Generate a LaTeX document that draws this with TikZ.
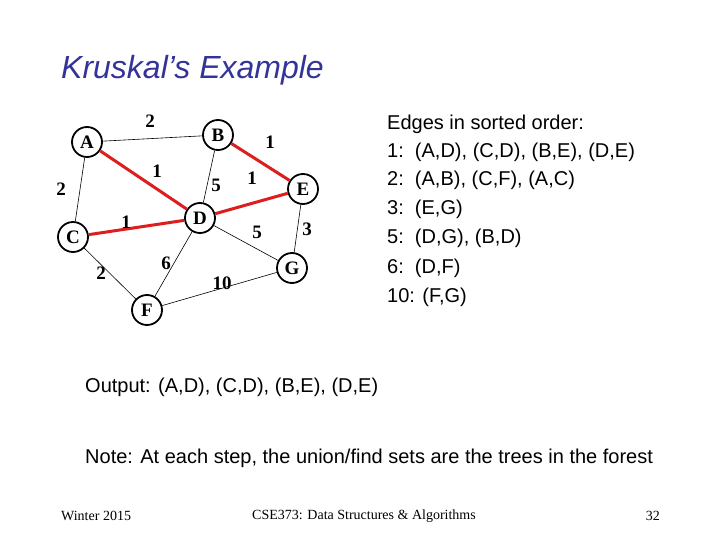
\documentclass[tikz,border=0pt]{standalone}
\usepackage{fontspec}
\setmainfont{Liberation Serif}
\newfontfamily\arialf{Liberation Sans}
\definecolor{titleblue}{RGB}{51,51,153}
\definecolor{mstred}{RGB}{220,30,30}
\begin{document}
\begin{tikzpicture}[x=1pt,y=-1pt,
  vtx/.style={circle,draw,line width=1.8pt,minimum size=30pt,inner sep=0pt,font=\bfseries\fontsize{19}{19}\selectfont},
  edg/.style={black,line width=0.6pt},
  mst/.style={mstred,line width=3pt},
  wl/.style={font=\bfseries\fontsize{19}{19}\selectfont},
  txt/.style={font=\arialf\fontsize{20}{22}\selectfont,anchor=west,inner sep=0pt}]
\useasboundingbox (0,0) rectangle (720,540);
\node[anchor=west,inner sep=0pt,text=titleblue,font=\arialf\itshape\fontsize{32}{32}\selectfont] (title) at (61,70) {Kruskal’s Example};
\node[vtx] (A) at (87,142) {A};
\node[vtx] (B) at (218,135) {B};
\node[vtx] (E) at (303,189) {E};
\node[vtx] (D) at (200,218) {D};
\node[vtx] (C) at (73,237) {C};
\node[vtx] (G) at (292,268) {G};
\node[vtx] (F) at (147,310) {F};
\draw[edg] (A) -- (B);
\draw[edg] (A) -- (C);
\draw[edg] (B) -- (D);
\draw[edg] (E) -- (G);
\draw[edg] (D) -- (G);
\draw[edg] (D) -- (F);
\draw[edg] (C) -- (F);
\draw[edg] (F) -- (G);
\draw[mst] (A) -- (D);
\draw[mst] (B) -- (E);
\draw[mst] (C) -- (D);
\draw[mst] (D) -- (E);
\node[wl] (w1) at (150,121) {2};
\node[wl] (w2) at (270,142) {1};
\node[wl] (w3) at (157,171) {1};
\node[wl] (w4) at (216,185) {5};
\node[wl] (w5) at (61,189) {2};
\node[wl] (w6) at (252,178) {1};
\node[wl] (w7) at (307,229) {3};
\node[wl] (w8) at (126,222) {1};
\node[wl] (w9) at (257,232) {5};
\node[wl] (w10) at (166,263) {6};
\node[wl] (w11) at (101,273) {2};
\node[wl] (w12) at (222,283) {10};
\node[txt] (t1) at (387,124) {Edges in sorted order:};
\node[txt] (t2) at (387,152) {1:\ \ (A,D), (C,D), (B,E), (D,E)};
\node[txt] (t3) at (387,180) {2:\ \ (A,B), (C,F), (A,C)};
\node[txt] (t4) at (387,209) {3:\ \ (E,G)};
\node[txt] (t5) at (387,238) {5:\ \ (D,G), (B,D)};
\node[txt] (t6) at (387,268) {6:\ \ (D,F)};
\node[txt] (t7) at (387,297) {10: (F,G)};
\node[txt] (out) at (85,387) {Output: (A,D), (C,D), (B,E), (D,E)};
\node[txt] (note) at (85,458) {Note: At each step, the union/find sets are the trees in the forest};
\node[anchor=west,inner sep=0pt,font=\fontsize{14}{14}\selectfont] (f1) at (61,516) {Winter 2015};
\node[inner sep=0pt,font=\fontsize{14}{14}\selectfont] (f2) at (364,516) {CSE373: Data Structures \& Algorithms};
\node[anchor=east,inner sep=0pt,font=\fontsize{14}{14}\selectfont] (f3) at (660,516) {32};
\end{tikzpicture}
\end{document}
